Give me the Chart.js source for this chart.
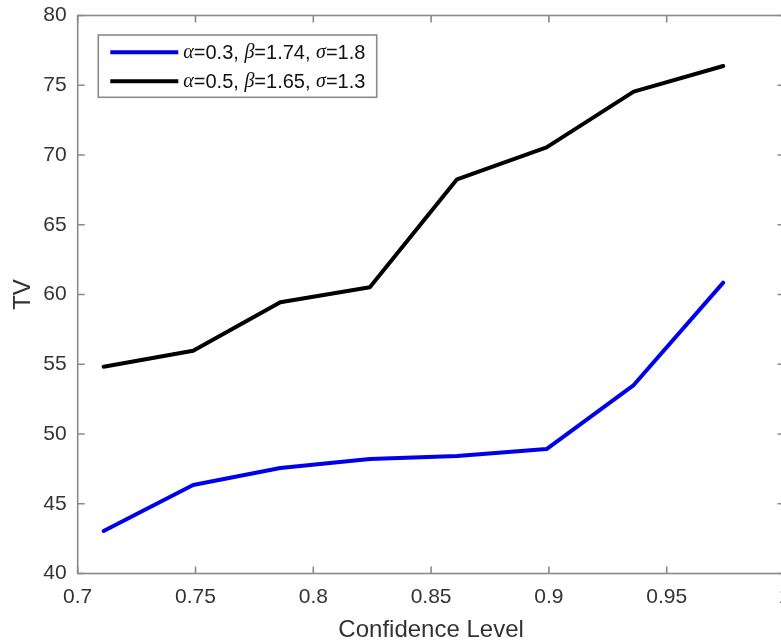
<!DOCTYPE html>
<html><head><meta charset="utf-8">
<script src="https://cdn.jsdelivr.net/npm/chart.js@4.4.1/dist/chart.umd.min.js"></script>
<style>html,body{margin:0;padding:0;overflow:hidden;background:#fff;width:781px;height:642px}canvas{display:block}</style>
</head><body><canvas id="c" width="800" height="642"></canvas>
<script>
const confidenceLevels = [0.711, 0.749, 0.786, 0.824, 0.861, 0.899, 0.936, 0.974];
const tvBlue  = [43.05, 46.34, 47.56, 48.21, 48.42, 48.92, 53.51, 60.85];
const tvBlack = [54.82, 55.97, 59.44, 60.52, 68.26, 70.55, 74.54, 76.38];
const seriesLabels = ['α=0.3, β=1.74, σ=1.8', 'α=0.5, β=1.65, σ=1.3'];
const seriesColors = ['rgb(0,0,235)', '#000000'];
const xTickLabels = ['0.7', '0.75', '0.8', '0.85', '0.9', '0.95', '1'];
const yTickLabels = ['40', '45', '50', '55', '60', '65', '70', '75', '80'];
const xTitle = 'Confidence Level';
const yTitle = 'TV';

const AXIS = '#8a8a8a';
const TEXT = '#333333';
const SANS = '"Liberation Sans", Arial, sans-serif';

function pts(xs, ys) { return xs.map((v, i) => ({x: v, y: ys[i]})); }

const framePlugin = {
  id: 'frame',
  beforeDatasetsDraw(chart) {
    const {ctx, chartArea: a, scales: {x, y}} = chart;
    ctx.save();
    ctx.strokeStyle = AXIS;
    ctx.lineWidth = 1.6;
    ctx.strokeRect(a.left, a.top, a.right - a.left, a.bottom - a.top);
    const L = 7;
    ctx.beginPath();
    x.ticks.forEach(t => {
      const px = x.getPixelForValue(t.value);
      ctx.moveTo(px, a.bottom); ctx.lineTo(px, a.bottom - L);
      ctx.moveTo(px, a.top); ctx.lineTo(px, a.top + L);
    });
    y.ticks.forEach(t => {
      const py = y.getPixelForValue(t.value);
      ctx.moveTo(a.left, py); ctx.lineTo(a.left + L, py);
      ctx.moveTo(a.right, py); ctx.lineTo(a.right - L, py);
    });
    ctx.stroke();
    ctx.restore();
  },
  afterDatasetsDraw(chart) {
    const {ctx, chartArea: a} = chart;
    const bx = a.left + 20.6, by = a.top + 19.5, bw = 278.4, bh = 62.3;
    ctx.save();
    ctx.fillStyle = '#fff';
    ctx.fillRect(bx, by, bw, bh);
    ctx.strokeStyle = AXIS;
    ctx.lineWidth = 1.6;
    ctx.strokeRect(bx, by, bw, bh);
    const rows = [17.2, 46.2];
    chart.data.datasets.forEach((ds, i) => {
      const ry = by + rows[i];
      ctx.strokeStyle = ds.borderColor;
      ctx.lineWidth = 4;
      ctx.beginPath();
      ctx.moveTo(bx + 12, ry); ctx.lineTo(bx + 80, ry);
      ctx.stroke();
      let tx = bx + 85;
      ctx.textBaseline = 'middle';
      ctx.fillStyle = '#111';
      for (const ch of ds.label) {
        ctx.font = /[αβσ]/.test(ch) ? 'italic 20px "Liberation Serif", serif' : '20px ' + SANS;
        ctx.fillText(ch, tx, ry + 1);
        tx += ctx.measureText(ch).width;
      }
    });
    ctx.restore();
  }
};

new Chart(document.getElementById('c'), {
  type: 'line',
  data: {
    datasets: [
      {label: seriesLabels[0], data: pts(confidenceLevels, tvBlue), borderColor: seriesColors[0]},
      {label: seriesLabels[1], data: pts(confidenceLevels, tvBlack), borderColor: seriesColors[1]}
    ]
  },
  options: {
    responsive: false,
    devicePixelRatio: 1,
    animation: false,
    layout: {padding: {left: 0, right: 15.5, top: 15.5, bottom: 0}},
    elements: {
      line: {borderWidth: 4, tension: 0, fill: false, borderJoinStyle: 'round', borderCapStyle: 'round'},
      point: {radius: 0, hoverRadius: 0}
    },
    plugins: {legend: {display: false}, tooltip: {enabled: false}},
    scales: {
      x: {
        type: 'linear', min: 0.7, max: 1.0,
        grid: {display: false, drawTicks: false},
        border: {display: false},
        ticks: {stepSize: 0.05, padding: 11, color: TEXT, font: {family: SANS, size: 21},
                maxRotation: 0, autoSkip: false,
                callback: (v, i) => xTickLabels[i]},
        title: {display: true, text: xTitle, color: TEXT, font: {family: SANS, size: 24, lineHeight: 1}, padding: {top: 0, bottom: 0}},
        afterFit: s => { s.height = 68.5; s.paddingLeft = 0; s.paddingRight = 0; }
      },
      y: {
        min: 40, max: 80,
        grid: {display: false, drawTicks: false},
        border: {display: false},
        ticks: {stepSize: 5, padding: 11, color: TEXT, font: {family: SANS, size: 21},
                callback: (v, i) => yTickLabels[i]},
        title: {display: true, text: yTitle, color: TEXT, font: {family: SANS, size: 24, lineHeight: 1}, padding: {top: 11, bottom: 0}},
        afterFit: s => { s.width = 77.7; s.paddingTop = 0; s.paddingBottom = 0; }
      }
    }
  },
  plugins: [framePlugin]
});
</script>
</body></html>
